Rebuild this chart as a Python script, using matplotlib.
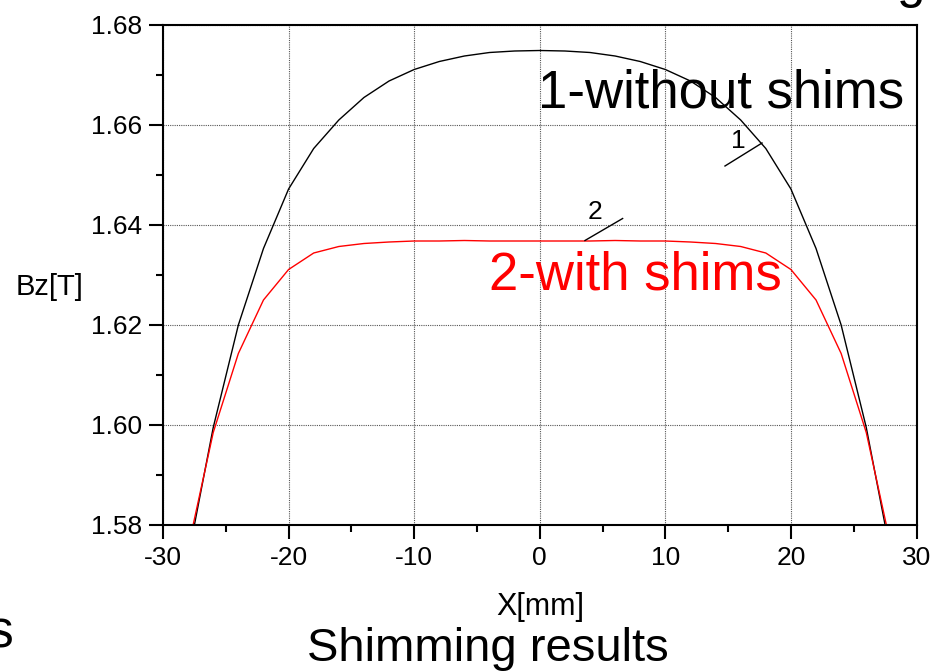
import numpy as np
import matplotlib.pyplot as plt
from matplotlib.ticker import MultipleLocator

plt.rcParams['font.family'] = ['Liberation Sans', 'DejaVu Sans']
plt.rcParams['axes.unicode_minus'] = False

# ---------------------------------------------------------
# Data (Bz in T along X in mm)
# ---------------------------------------------------------

x_mm = [-28, -26, -24, -22, -20, -18, -16, -14, -12, -10, -8, -6, -4, -2, 0,
        2, 4, 6, 8, 10, 12, 14, 16, 18, 20, 22, 24, 26, 28]

# 1 - without shims
bz_without = [1.5735, 1.5995, 1.6200, 1.6353, 1.6472, 1.6553, 1.6610, 1.6655,
              1.6688, 1.6711, 1.6727, 1.6738, 1.6745, 1.6748, 1.6749,
              1.6748, 1.6745, 1.6738, 1.6727, 1.6711, 1.6688, 1.6655, 1.6610,
              1.6553, 1.6472, 1.6353, 1.6200, 1.5995, 1.5735]

# 2 - with shims
bz_with = [1.5754, 1.5985, 1.6143, 1.6250, 1.6311, 1.6344, 1.6357, 1.6363,
           1.6366, 1.6368, 1.6368, 1.6369, 1.6368, 1.6368, 1.6368,
           1.6368, 1.6368, 1.6369, 1.6368, 1.6368, 1.6366, 1.6363, 1.6357,
           1.6344, 1.6311, 1.6250, 1.6143, 1.5985, 1.5754]

x_lim = (-30, 30)
y_lim = (1.58, 1.68)

# ---------------------------------------------------------
# Plot
# ---------------------------------------------------------

fig = plt.figure(figsize=(9.35, 6.72), dpi=100)
ax = fig.add_axes([163/935, 1 - 525/672, (916.5 - 163)/935, (525 - 25)/672])

ax.plot(x_mm, bz_without, color='black', lw=1.0)
ax.plot(x_mm, bz_with, color='red', lw=1.0)

ax.set_xlim(*x_lim)
ax.set_ylim(*y_lim)

ax.xaxis.set_major_locator(MultipleLocator(10))
ax.xaxis.set_minor_locator(MultipleLocator(5))
ax.yaxis.set_major_locator(MultipleLocator(0.02))
ax.yaxis.set_minor_locator(MultipleLocator(0.01))
ax.yaxis.set_major_formatter(plt.FormatStrFormatter('%.2f'))

ax.tick_params(which='both', direction='out', width=1.5, top=False, right=False)
ax.tick_params(which='major', length=10, labelsize=19)
ax.tick_params(axis='x', which='major', pad=5)
ax.tick_params(axis='y', which='major', pad=5)
ax.tick_params(which='minor', length=5)

for s in ax.spines.values():
    s.set_linewidth(1.5)

ax.grid(True, which='major', linestyle=(0, (1, 1)), color='#555555', lw=0.8)

# curve markers with leader lines
ax.plot([14.75, 17.7], [1.6518, 1.6564], color='black', lw=1.0)
ax.text(15.8, 1.6544, '1', fontsize=19, ha='center', va='bottom')
ax.plot([3.6, 6.6], [1.6369, 1.6413], color='black', lw=1.0)
ax.text(4.4, 1.6402, '2', fontsize=19, ha='center', va='bottom')

ax.text(29.0, 1.6634, '1-without shims', fontsize=38, ha='right',
        va='baseline', color='black')
ax.text(19.3, 1.6270, '2-with shims', fontsize=38, ha='right',
        va='baseline', color='red')

# axis labels placed like the original slide
fig.text(50/935, 1 - 287/672, 'Bz[T]', fontsize=21, ha='center', va='center')
fig.text(540/935, 1 - 615/672, 'X[mm]', fontsize=22, ha='center', va='baseline')
fig.text(488/935, 1 - 661/672, 'Shimming results', fontsize=34, ha='center',
         va='baseline')

# fragments of neighbouring slide text
fig.text(13/935, 1 - 647/672, 's', fontsize=37, ha='right', va='baseline')
fig.text(897/935, 1 + 3/672, 'g', fontsize=37, ha='left', va='baseline')

fig.savefig('out.png', dpi=100)
